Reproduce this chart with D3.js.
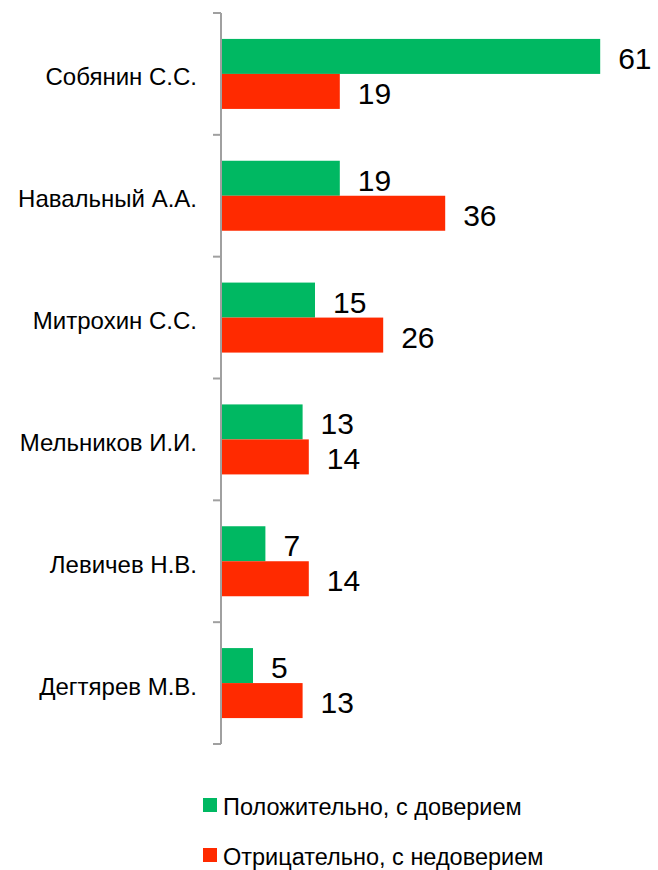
<!DOCTYPE html>
<html><head><meta charset="utf-8">
<script src="https://cdn.jsdelivr.net/npm/d3@7"></script>
<style>body{margin:0;background:#fff;} svg{display:block;}</style>
</head><body>
<script>
const categories = ["Собянин С.С.", "Навальный А.А.", "Митрохин С.С.", "Мельников И.И.", "Левичев Н.В.", "Дегтярев М.В."];
const positive = [61, 19, 15, 13, 7, 5];
const negative = [19, 36, 26, 14, 14, 13];
const seriesNames = ["Положительно, с доверием", "Отрицательно, с недоверием"];
const colors = ["#00B862", "#FF2A00"];

const W = 658, H = 870;
const svg = d3.select("body").append("svg").attr("width", W).attr("height", H);
const font = "'Liberation Sans', Arial, sans-serif";

const x = d3.scaleLinear().domain([0, 70]).range([221, 655]);
const y = d3.scaleBand().domain(categories).range([13, 744]);
const barH = 35;

const ag = svg.append("g").attr("transform", `translate(${x(0)},0)`);
ag.append("line").attr("x1", 0).attr("x2", 0).attr("y1", 13).attr("y2", 744)
  .attr("stroke", "#a0a0a0").attr("stroke-width", 2);
const bounds = categories.map(c => y(c)).concat([y.range()[1]]);
ag.selectAll(".tk").data(bounds).join("line").attr("class", "tk")
  .attr("x1", -8).attr("x2", 0).attr("y1", d => d).attr("y2", d => d)
  .attr("stroke", "#a0a0a0").attr("stroke-width", 2);

svg.selectAll(".cat").data(categories).join("text").attr("class", "cat")
  .attr("x", 197).attr("y", d => y(d) + y.bandwidth() / 2 + 3)
  .attr("text-anchor", "end").attr("dominant-baseline", "central")
  .attr("font-family", font).attr("font-size", 24).attr("fill", "#000")
  .text(d => d);

const series = [positive, negative];
series.forEach((vals, si) => {
  const g = svg.append("g");
  const data = categories.map((c, i) => ({c, v: vals[i]}));
  g.selectAll("rect").data(data).join("rect")
    .attr("x", x(0) + 1)
    .attr("y", d => y(d.c) + y.bandwidth() / 2 - barH + si * barH)
    .attr("width", d => x(d.v) - x(0))
    .attr("height", barH)
    .attr("fill", colors[si]);
  g.selectAll("text").data(data).join("text")
    .attr("x", d => x(d.v) + 19)
    .attr("y", d => y(d.c) + y.bandwidth() / 2 - barH / 2 + si * barH + 2)
    .attr("dominant-baseline", "central")
    .attr("font-family", font).attr("font-size", 30).attr("fill", "#000")
    .text(d => d.v);
});

const leg = svg.append("g");
const legY = [805, 855];
seriesNames.forEach((n, i) => {
  leg.append("rect").attr("x", 203).attr("y", legY[i] - 7).attr("width", 14).attr("height", 14).attr("fill", colors[i]);
  leg.append("text").attr("x", 223).attr("y", legY[i] + 2).attr("dominant-baseline", "central")
    .attr("font-family", font).attr("font-size", 23.5).attr("fill", "#000").text(n);
});
</script>
</body></html>
